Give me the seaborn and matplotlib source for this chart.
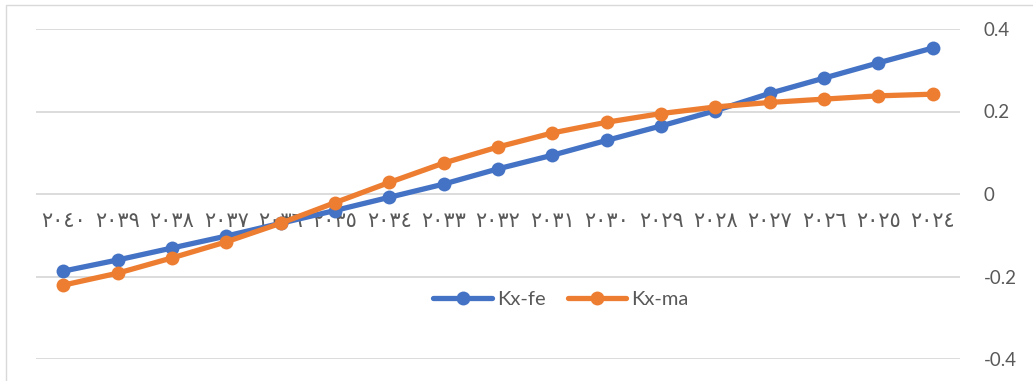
import matplotlib
matplotlib.use("Agg")
import matplotlib.pyplot as plt
from matplotlib.patches import Rectangle
import numpy as np
import pandas as pd
import seaborn as sns

# Projection years and the two series
years = [2024, 2025, 2026, 2027, 2028, 2029, 2030, 2031, 2032,
         2033, 2034, 2035, 2036, 2037, 2038, 2039, 2040]
kx_fe = [0.354, 0.318, 0.281, 0.244, 0.202, 0.165, 0.130, 0.094, 0.061,
         0.024, -0.008, -0.040, -0.071, -0.102, -0.131, -0.160, -0.187]
kx_ma = [0.242, 0.238, 0.230, 0.222, 0.211, 0.195, 0.174, 0.148, 0.114,
         0.075, 0.028, -0.021, -0.071, -0.116, -0.155, -0.192, -0.221]
series_names = ["Kx-fe", "Kx-ma"]
y_ticks = [-0.4, -0.2, 0, 0.2, 0.4]
y_tick_labels = ["-0.4", "-0.2", "0", "0.2", "0.4"]

arabic_digits = str.maketrans("0123456789", "٠١٢٣٤٥٦٧٨٩")
year_labels = [str(y).translate(arabic_digits) for y in years]

df = pd.DataFrame({
    "year": years * 2,
    "value": kx_fe + kx_ma,
    "series": [series_names[0]] * len(years) + [series_names[1]] * len(years),
})

sns.set_theme(style="white")
plt.rcParams["font.family"] = ["Lato", "DejaVu Sans"]

fig = plt.figure(figsize=(10.33, 3.81), dpi=100)
fig.patches.append(Rectangle((6 / 1033, -0.1), 1.2, (381 - 5) / 381 + 0.1,
                             transform=fig.transFigure, fill=False,
                             edgecolor="#D9D9D9", linewidth=1.0, zorder=0))

ax = fig.add_axes([36 / 1033, 22 / 381, 924 / 1033, 330 / 381])

palette = {"Kx-fe": "#4472C4", "Kx-ma": "#ED7D31"}
sns.lineplot(data=df, x="year", y="value", hue="series", palette=palette,
             hue_order=series_names, marker="o", markersize=10,
             markeredgewidth=0, linewidth=3.8, ax=ax, legend=True, zorder=3)

ax.set_xlim(2040.5, 2023.5)
ax.set_ylim(-0.4, 0.4)
ax.set_xlabel("")
ax.set_ylabel("")

# Horizontal gridlines
ax.set_yticks(y_ticks)
ax.set_yticklabels(y_tick_labels)
ax.yaxis.grid(True, color="#D9D9D9", linewidth=1.3)
ax.xaxis.grid(False)
ax.yaxis.tick_right()
ax.tick_params(axis="y", length=0, pad=17, labelsize=13.5, labelcolor="#595959")
for lbl in ax.get_yticklabels():
    lbl.set_horizontalalignment("left")

# Category labels sit along the zero line
ax.spines["bottom"].set_position(("data", 0))
for s in ax.spines.values():
    s.set_visible(False)
ax.set_xticks(years)
ax.set_xticklabels(year_labels, family=["DejaVu Sans"])
ax.tick_params(axis="x", length=0, pad=12, labelsize=15, labelcolor="#595959")

leg = ax.legend(loc="center", bbox_to_anchor=(0.568, 0.18), ncol=2, frameon=False,
                fontsize=14.5, handlelength=2.9, columnspacing=1.1, handletextpad=0.25,
                labelcolor="#595959")

fig.savefig("out.png", dpi=100)
